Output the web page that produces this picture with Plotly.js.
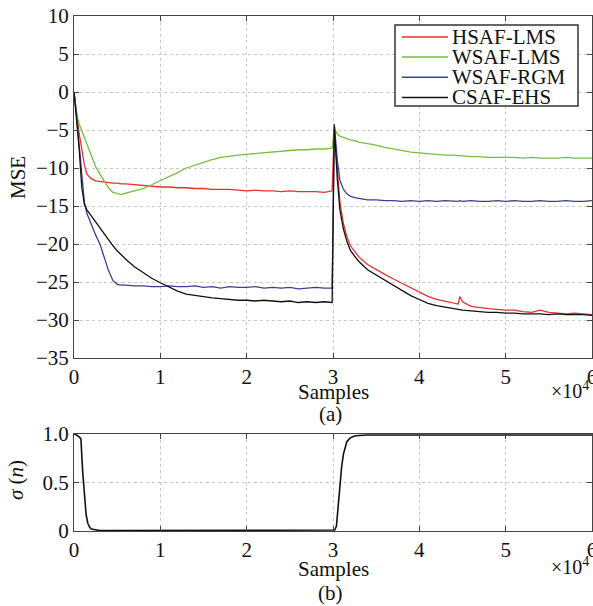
<!DOCTYPE html>
<html>
<head>
<meta charset="utf-8">
<script src="https://cdn.plot.ly/plotly-3.0.1.min.js"></script>
<style>html,body{margin:0;padding:0;background:#fff;}#chart{width:593px;height:606px;}</style>
</head>
<body>
<div id="chart"></div>
<script>
// ---- data (x in units of 10^4 samples) ----
const xTop = [0,0.03,0.06,0.09,0.12,0.15,0.2,0.25,0.3,0.35,0.4,0.45,0.5,0.55,0.6,0.7,0.8,0.9,1.0,1.1,1.2,1.3,1.4,1.5,1.6,1.7,1.8,1.9,2.0,2.1,2.2,2.3,2.4,2.5,2.6,2.7,2.8,2.9,2.99,3.015,3.05,3.08,3.12,3.16,3.2,3.25,3.3,3.4,3.5,3.6,3.7,3.8,3.9,4.0,4.1,4.2,4.3,4.4,4.45,4.47,4.5,4.6,4.7,4.8,4.9,5.0,5.1,5.2,5.3,5.4,5.5,5.6,5.7,5.8,5.9,6.0];

const hsafLms = [0,-3.0,-5.5,-7.5,-9.6,-10.8,-11.4,-11.7,-11.8,-11.9,-11.9,-12.0,-12.0,-12.1,-12.1,-12.2,-12.3,-12.4,-12.5,-12.5,-12.6,-12.6,-12.7,-12.7,-12.8,-12.8,-12.8,-12.9,-13.0,-12.9,-13.0,-13.0,-13.1,-13.0,-13.1,-13.1,-13.1,-13.2,-13.0,-5.0,-10.5,-14.5,-17.3,-19.0,-20.2,-21.0,-21.7,-22.7,-23.4,-24.0,-24.6,-25.2,-25.8,-26.4,-26.9,-27.3,-27.5,-27.8,-27.9,-26.9,-27.6,-28.2,-28.4,-28.5,-28.6,-28.7,-28.7,-28.9,-29.0,-28.7,-29.0,-29.1,-29.2,-29.1,-29.2,-29.3];

const wsafLms = [0,-3.0,-4.2,-5.1,-6.0,-7.0,-8.5,-9.8,-10.8,-11.8,-12.6,-13.2,-13.4,-13.5,-13.3,-13.0,-12.7,-12.2,-11.7,-11.2,-10.6,-10.0,-9.6,-9.2,-8.9,-8.6,-8.4,-8.3,-8.2,-8.1,-8.0,-7.9,-7.8,-7.7,-7.6,-7.6,-7.5,-7.5,-7.4,-4.8,-5.5,-5.8,-6.0,-6.1,-6.3,-6.4,-6.6,-6.8,-7.0,-7.3,-7.5,-7.7,-7.9,-8.0,-8.1,-8.2,-8.3,-8.3,-8.4,-8.4,-8.4,-8.5,-8.5,-8.6,-8.6,-8.6,-8.6,-8.7,-8.6,-8.7,-8.7,-8.7,-8.6,-8.7,-8.7,-8.7];

const wsafRgm = [0,-3.0,-7.0,-11.0,-14.5,-16.0,-17.5,-18.8,-20.0,-21.7,-23.5,-24.8,-25.3,-25.4,-25.4,-25.5,-25.5,-25.6,-25.6,-25.5,-25.6,-25.6,-25.5,-25.7,-25.6,-25.8,-25.6,-25.7,-25.7,-25.6,-25.8,-25.7,-25.8,-25.7,-25.9,-25.8,-25.7,-25.8,-25.8,-4.2,-9.0,-11.6,-12.8,-13.4,-13.7,-13.9,-14.0,-14.2,-14.2,-14.3,-14.3,-14.4,-14.3,-14.4,-14.3,-14.4,-14.3,-14.4,-14.4,-14.3,-14.4,-14.3,-14.4,-14.4,-14.3,-14.4,-14.3,-14.4,-14.4,-14.3,-14.4,-14.4,-14.3,-14.4,-14.4,-14.3];

const csafEhs = [0,-3.5,-7.5,-12.5,-14.8,-15.5,-16.3,-17.0,-17.8,-18.6,-19.4,-20.2,-20.9,-21.5,-22.0,-23.0,-23.8,-24.5,-25.1,-25.7,-26.2,-26.6,-26.8,-27.0,-27.1,-27.2,-27.3,-27.4,-27.4,-27.5,-27.4,-27.5,-27.6,-27.5,-27.7,-27.6,-27.7,-27.6,-27.7,-4.5,-11.5,-15.5,-18.0,-19.6,-20.8,-21.6,-22.3,-23.4,-24.1,-24.7,-25.4,-26.1,-26.8,-27.3,-27.8,-28.1,-28.3,-28.5,-28.6,-28.6,-28.7,-28.8,-28.9,-29.0,-29.0,-29.1,-29.1,-29.2,-29.2,-29.2,-29.3,-29.2,-29.3,-29.3,-29.3,-29.4];

const xSigma = [0,0.03,0.06,0.08,0.1,0.12,0.14,0.16,0.18,0.2,0.25,0.3,0.4,1,2,3,3.02,3.04,3.06,3.08,3.1,3.12,3.14,3.16,3.2,3.25,3.3,3.4,4,5,6];
const sigma = [1.0,0.99,0.97,0.95,0.62,0.35,0.17,0.08,0.04,0.02,0.01,0.005,0.004,0.004,0.004,0.004,0.01,0.05,0.25,0.49,0.66,0.79,0.87,0.92,0.96,0.98,0.985,0.99,0.99,0.99,0.99];

const seriesNames = ['HSAF-LMS','WSAF-LMS','WSAF-RGM','CSAF-EHS'];
const seriesColors = ['#e8312a','#78be3c','#3b3f98','#111111'];
const seriesValues = [hsafLms, wsafLms, wsafRgm, csafEhs];

const topTicks = [10,5,0,-5,-10,-15,-20,-25,-30,-35];
const xTicks = [0,1,2,3,4,5,6];
const sigmaTicks = [0,0.5,1.0];
const sigmaTickText = ['0','0.5','1.0'];

// ---- layout geometry ----
const FONT = 'Liberation Serif';
const W = 593, H = 606, ML = 74, MR = 1, MT = 16, MB = 75;
const plotH = H - MT - MB, plotW = W - ML - MR;
const py = p => (H - MB - p) / plotH;   // pixel y -> paper y
const px = p => (p - ML) / plotW;       // pixel x -> paper x

const traces = seriesNames.map((n, i) => ({
  x: xTop, y: seriesValues[i], name: n, type: 'scatter', mode: 'lines',
  line: {color: seriesColors[i], width: 1.3}, xaxis: 'x', yaxis: 'y', showlegend: false
}));
traces.push({x: xSigma, y: sigma, type: 'scatter', mode: 'lines', line: {color: '#111', width: 1.6},
  xaxis: 'x2', yaxis: 'y2', showlegend: false, name: 'σ(n)'});

const axCommon = {
  showline: true, linecolor: '#444', linewidth: 1, mirror: 'ticks', ticks: 'inside', ticklen: 5,
  tickcolor: '#444', showgrid: true, gridcolor: '#c8c8c8', griddash: 'dot', gridwidth: 1,
  zeroline: false, tickfont: {family: FONT, size: 21, color: '#111'}
};

const shapes = [];
const annotations = [];
// custom legend (box + line samples + labels, built from the series arrays)
shapes.push({type: 'rect', xref: 'paper', yref: 'paper', x0: px(395), x1: px(578), y0: py(106), y1: py(25),
  line: {color: '#333', width: 1.5}, fillcolor: '#fff', layer: 'above'});
seriesNames.forEach((n, i) => {
  const yy = py(36.9 + i * 20.2);
  shapes.push({type: 'line', xref: 'paper', yref: 'paper', x0: px(402), x1: px(448), y0: yy, y1: yy,
    line: {color: seriesColors[i], width: 1.5}, layer: 'above'});
  annotations.push({xref: 'paper', yref: 'paper', x: px(451), y: yy, xanchor: 'left', yanchor: 'middle',
    text: n, showarrow: false, borderpad: 0, font: {family: FONT, size: 21, color: '#111'}});
});
const txt = (t, x, y, extra) => Object.assign({xref: 'paper', yref: 'paper', x: px(x), y: py(y), text: t,
  showarrow: false, borderpad: 0, xanchor: 'center', yanchor: 'middle', font: {family: FONT, size: 21, color: '#111'}}, extra || {});
annotations.push(txt('Samples', 333, 392));
annotations.push(txt('(a)', 330, 414));
annotations.push(txt('×10<sup>4</sup>', 570, 390, {font: {family: FONT, size: 20, color: '#111'}}));
annotations.push(txt('Samples', 333, 569));
annotations.push(txt('(b)', 330, 593));
annotations.push(txt('×10<sup>4</sup>', 570, 566, {font: {family: FONT, size: 20, color: '#111'}}));
annotations.push(txt('MSE', 18, 178, {textangle: -90}));
annotations.push(txt('<i>σ</i> (<i>n</i>)', 16, 480, {textangle: -90}));

const layout = {
  width: W, height: H, margin: {l: ML, r: MR, t: MT, b: MB}, paper_bgcolor: '#fff', plot_bgcolor: '#fff',
  showlegend: false,
  xaxis: Object.assign({}, axCommon, {range: [0, 6], tickvals: xTicks, anchor: 'y', domain: [0, 1], ticklabeloverflow: 'allow'}),
  yaxis: Object.assign({}, axCommon, {range: [-35, 10], tickvals: topTicks, anchor: 'x', domain: [py(358), 1]}),
  xaxis2: Object.assign({}, axCommon, {range: [0, 6], tickvals: xTicks, anchor: 'y2', domain: [0, 1], ticklabeloverflow: 'allow'}),
  yaxis2: Object.assign({}, axCommon, {range: [0, 1], tickvals: sigmaTicks, ticktext: sigmaTickText, anchor: 'x2', domain: [0, py(434)]}),
  shapes: shapes, annotations: annotations
};
Plotly.newPlot('chart', traces, layout, {displayModeBar: false, staticPlot: true});
</script>
</body>
</html>
